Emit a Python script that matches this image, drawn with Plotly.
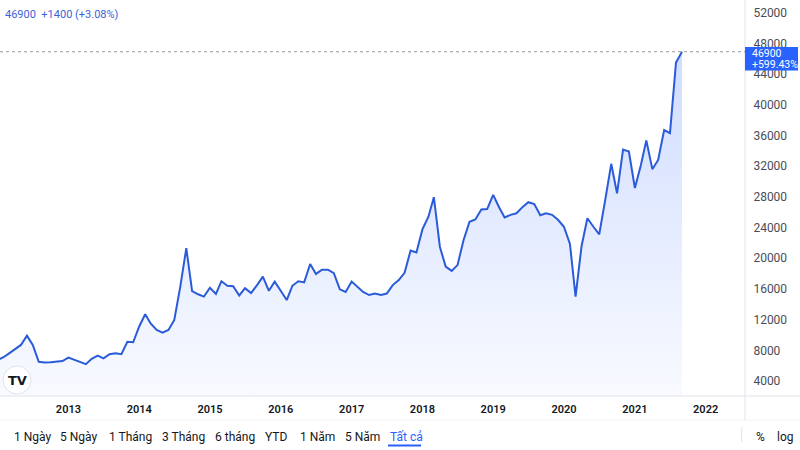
import pandas as pd
import plotly.graph_objects as go

# ---- data ----
start_month = "2012-01-01"
prices = [
    6705.5, 7100, 7600, 8200, 8700, 9900, 8700, 6500, 6400, 6450, 6500, 6600,
    7050, 6750, 6550, 6200, 6900, 7300, 6950, 7500, 7600, 7500, 9100, 9050,
    11100, 12700, 11500, 10650, 10300, 10650, 11950, 16300, 21300, 15700, 15300, 15000,
    16150, 15350, 17000, 16400, 16350, 15150, 16100, 15450, 16500, 17600, 15750, 16950,
    15750, 14550, 16400, 17000, 16850, 19250, 17950, 18500, 18500, 18050, 15950, 15600,
    16950, 16300, 15600, 15200, 15400, 15200, 15400, 16500, 17150, 18100, 21000, 20750,
    23750, 25400, 27950, 21500, 18900, 18350, 19100, 22350, 24750, 25050, 26350, 26400,
    28250, 26600, 25300, 25650, 25850, 26650, 27300, 27050, 25600, 25850, 25650, 25000,
    24100, 21850, 15000, 21600, 25200, 24100, 23100, 27600, 32300, 28450, 34150, 33900,
    29150, 32150, 35350, 31600, 32800, 36700, 36300, 45500, 46900,
]
dates = pd.date_range(start_month, periods=len(prices), freq="MS")
y_ticks = list(range(4000, 52001, 4000))
year_ticks = [f"{y}-01-01" for y in range(2013, 2023)]
year_labels = [str(y) for y in range(2013, 2023)]
range_buttons = ["1 Ngày", "5 Ngày", "1 Tháng", "3 Tháng", "6 tháng", "YTD", "1 Năm", "5 Năm", "Tất cả"]
button_x = [11.7, 58.3, 106.7, 160, 213.3, 263.3, 298.3, 343.3, 388.3]

last = prices[-1]
prev = prices[-2]
chg = last - prev
chg_pct = chg / prev * 100
total_pct = (last / prices[0] - 1) * 100

LINE = "#2a5bd8"
BLUE = "#2962ff"
FONT = "Roboto"
GRID = "#e0e3eb"

W, H = 800, 450
PLOT_R = 745
PLOT_B = 396

def px(x):
    return x / PLOT_R

def py(y):
    return (PLOT_B - y) / PLOT_B

fig = go.Figure()
fig.add_trace(go.Scatter(
    x=dates, y=prices, mode="lines",
    line=dict(color=LINE, width=2),
    fill="tozeroy",
    fillgradient=dict(
        type="vertical",
        colorscale=[[0, "rgba(41,98,255,0.03)"], [1, "rgba(41,98,255,0.22)"]],
        start=2000, stop=47000,
    ),
    hoverinfo="skip",
))

fig.update_layout(
    width=W, height=H,
    margin=dict(l=0, r=W - PLOT_R, t=0, b=H - PLOT_B),
    paper_bgcolor="white", plot_bgcolor="white",
    showlegend=False,
    font=dict(family=FONT, color="#131722"),
    xaxis=dict(
        type="date",
        range=["2012-01-14", "2022-07-23"],
        tickvals=year_ticks, ticktext=year_labels,
        showgrid=False, zeroline=False, showline=False,
        ticks="outside", ticklen=3, tickcolor="rgba(0,0,0,0)",
        tickfont=dict(size=11, family=FONT, color="#131722", weight=600),
        fixedrange=True,
    ),
    yaxis=dict(
        side="right",
        range=[2046, 53642],
        tickvals=y_ticks,
        ticktext=[str(v) for v in y_ticks],
        showgrid=False, zeroline=False, showline=False,
        ticks="outside", ticklen=5, tickcolor="rgba(0,0,0,0)",
        tickfont=dict(size=12, family=FONT, color="#4a4d57"),
        fixedrange=True,
    ),
)

shapes = [
    dict(type="line", xref="paper", yref="paper", x0=0, x1=px(W), y0=0, y1=0,
         line=dict(color=GRID, width=1)),
    dict(type="line", xref="paper", yref="paper", x0=0, x1=px(W), y0=py(420), y1=py(420),
         line=dict(color="#f0f3fa", width=1)),
    dict(type="line", xref="paper", yref="paper", x0=1, x1=1, y0=py(420), y1=1,
         line=dict(color=GRID, width=1)),
    dict(type="line", xref="paper", yref="y", x0=0, x1=1, y0=last, y1=last,
         line=dict(color="#9598a1", width=1, dash="dot")),
    # last-price label box
    dict(type="rect", xref="paper", yref="paper", x0=px(745), x1=px(798), y0=py(70.5), y1=py(47),
         line=dict(width=0), fillcolor=BLUE, layer="above"),
    dict(type="line", xref="paper", yref="paper", x0=px(741.7), x1=px(741.7), y0=py(427), y1=py(442),
         line=dict(color=GRID, width=1)),
    dict(type="line", xref="paper", yref="paper", x0=px(388), x1=px(421), y0=py(445.5), y1=py(445.5),
         line=dict(color=BLUE, width=2)),
    dict(type="circle", xref="paper", yref="paper", x0=px(3), x1=px(31), y0=py(394), y1=py(366),
         line=dict(color="#e0e3eb", width=1), fillcolor="white"),
]
fig.update_layout(shapes=shapes)

ann = []
ann.append(dict(
    xref="paper", yref="paper", x=px(3), y=py(15), xanchor="left", yanchor="middle",
    text=f"{last}  +{chg} (+{chg_pct:.2f}%)", showarrow=False,
    font=dict(size=11, color="#3d63d6", family=FONT),
))
ann.append(dict(
    xref="paper", yref="paper", x=px(750), y=py(53), xanchor="left", yanchor="middle",
    text=f"{last}", showarrow=False,
    font=dict(size=10.5, color="white", family=FONT),
))
ann.append(dict(
    xref="paper", yref="paper", x=px(750), y=py(64.5), xanchor="left", yanchor="middle",
    text=f"+{total_pct:.2f}%", showarrow=False,
    font=dict(size=10.5, color="white", family=FONT),
))
ann.append(dict(
    xref="paper", yref="paper", x=px(17), y=py(380), xanchor="center", yanchor="middle",
    text="<b>TV</b>", showarrow=False,
    font=dict(size=13, color="#131722", family="DejaVu Sans"),
))
for lbl, bx in zip(range_buttons, button_x):
    ann.append(dict(
        xref="paper", yref="paper", x=px(bx), y=py(437), xanchor="left", yanchor="middle",
        text=lbl, showarrow=False,
        font=dict(size=12, color=BLUE if lbl == "Tất cả" else "#131722", family=FONT),
    ))
ann.append(dict(xref="paper", yref="paper", x=px(760), y=py(437), xanchor="center", yanchor="middle",
                text="%", showarrow=False, font=dict(size=12, color="#131722", family=FONT)))
ann.append(dict(xref="paper", yref="paper", x=px(785.5), y=py(437), xanchor="center", yanchor="middle",
                text="log", showarrow=False, font=dict(size=12, color="#131722", family=FONT)))
fig.update_layout(annotations=ann)

fig.write_html("out.html")
